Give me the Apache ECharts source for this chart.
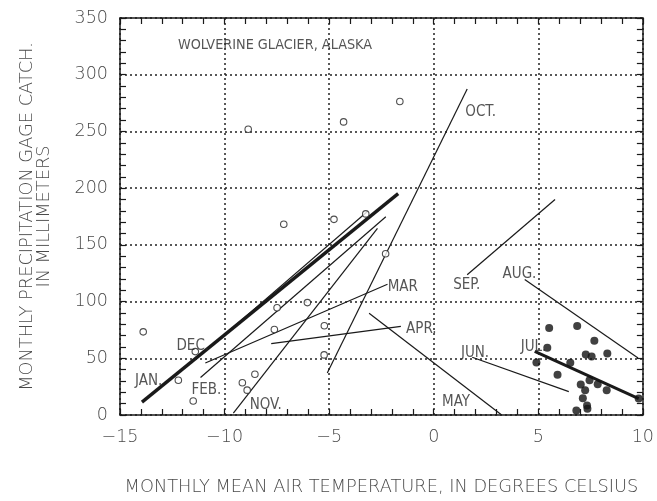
<!DOCTYPE html>
<html>
<head>
<meta charset="utf-8">
<script src="https://cdn.jsdelivr.net/npm/echarts@6/dist/echarts.min.js"></script>
<style>html,body{margin:0;padding:0;background:#fff}#c{width:657px;height:501px}</style>
</head>
<body>
<div id="c"></div>
<script>
// ---- data ----
const xTicks = [-15, -10, -5, 0, 5, 10];
const yTicks = [0, 50, 100, 150, 200, 250, 300, 350];

// open circles (monthly values, cold months)
const openX = [-13.89, -12.21, -11.50, -11.40, -9.15, -8.92, -8.55, -7.62, -7.49, -6.04, -5.23, -5.24, -7.17, -4.77, -3.25, -8.87, -4.31, -1.62, -2.30];
const openY = [73.3, 30.7, 12.3, 55.9, 28.4, 21.9, 35.9, 75.4, 94.6, 99.1, 78.7, 53.0, 168.2, 172.5, 177.3, 251.9, 258.4, 276.4, 142.1];

// filled dots (July values)
const julX = [5.52, 6.86, 5.43, 7.68, 7.27, 7.55, 8.30, 4.91, 6.53, 5.92, 7.03, 7.45, 7.84, 7.24, 8.27, 7.13, 7.33, 7.35, 6.82, 9.80];
const julY = [76.7, 78.4, 59.2, 65.5, 53.4, 51.5, 54.3, 46.3, 46.0, 35.5, 26.9, 30.6, 27.1, 21.9, 21.8, 14.8, 8.3, 5.6, 4.0, 14.5];

// regression lines: [x1, y1, x2, y2]
const lineJAN = [-13.95, 11.4, -1.70, 195.2];
const lineFEB = [-11.15, 33.1, -2.29, 174.8];
const lineMAR = [-10.92, 45.8, -2.21, 115.3];
const lineAPR = [-7.77, 62.9, -1.57, 78.2];
const lineMAY = [-3.09, 89.7, 3.25, 0];
const lineJUN = [1.84, 50.9, 6.46, 20.6];
const lineJUL = [4.83, 56.0, 9.80, 14.5];
const lineAUG = [4.35, 119.5, 9.77, 50.3];
const lineSEP = [1.60, 123.7, 5.80, 190.0];
const lineOCT = [-5.09, 37.0, 1.60, 287.5];
const lineNOV = [-9.58, 1.6, -2.69, 164.5];
const lineDEC = [-10.66, 60.3, -3.17, 179.4];

// text labels: name, x, y (data coordinates of left-middle)
const labelNames = ['JAN.', 'FEB.', 'MAR', 'APR.', 'MAY', 'JUN.', 'JUL.', 'AUG.', 'SEP.', 'OCT.', 'NOV.', 'DEC.'];
const labelX = [-14.28, -11.58, -2.20, -1.32, 0.40, 1.30, 4.16, 3.29, 0.93, 1.51, -8.80, -12.30];
const labelY = [29.9, 22.0, 112.8, 75.6, 11.7, 54.7, 60.1, 124.6, 114.6, 266.8, 8.8, 60.7];
const titleText = 'WOLVERINE GLACIER, ALASKA';
const titlePos = [-12.23, 326];

// ---- chart ----
const chart = echarts.init(document.getElementById('c'), null, {renderer: 'canvas'});
const axisFont = 'DejaVu Sans, Liberation Sans, sans-serif';
const textColor = '#4a4a4a';
const labelFont = 'Liberation Sans Narrow, DejaVu Sans Condensed, sans-serif';
const fmt = v => String(v).replace('-', '\u2212');

function mkLine(arr, w) {
  return {
    type: 'line', data: [[arr[0], arr[1]], [arr[2], arr[3]]],
    symbol: 'none', silent: true, animation: false,
    lineStyle: {color: '#1a1a1a', width: w}, z: 3
  };
}

const baseX = {
  type: 'value', min: -15, max: 10, interval: 5,
  axisLine: {show: true, onZero: false, lineStyle: {color: '#1a1a1a', width: 1.5}},
  axisTick: {show: true, inside: true, length: 6, lineStyle: {color: '#1a1a1a', width: 1.2}},
  minorTick: {show: true, splitNumber: 5, length: 6, lineStyle: {color: '#1a1a1a', width: 1.2}},
  splitLine: {show: false}
};
const baseY = {
  type: 'value', min: 0, max: 350, interval: 50,
  axisLine: {show: true, onZero: false, lineStyle: {color: '#1a1a1a', width: 1.5}},
  axisTick: {show: true, inside: true, length: 6, lineStyle: {color: '#1a1a1a', width: 1.2}},
  minorTick: {show: true, splitNumber: 5, length: 6, lineStyle: {color: '#1a1a1a', width: 1.2}},
  splitLine: {show: false}
};

const labelData = labelNames.map((n, i) => ({value: [labelX[i], labelY[i]], name: n}));

chart.setOption({
  animation: false,
  backgroundColor: '#fff',
  grid: {left: 120, right: 13, top: 18, bottom: 86},
  xAxis: [
    Object.assign({}, baseX, {
      position: 'bottom',
      axisLabel: {color: textColor, fontSize: 17.5, margin: 13, fontFamily: axisFont, fontWeight: 200, formatter: fmt},
      splitLine: {show: true, lineStyle: {type: [2, 3], color: '#222', width: 1.5}},
      name: 'MONTHLY MEAN AIR TEMPERATURE, IN DEGREES CELSIUS',
      nameLocation: 'middle', nameGap: 63,
      nameTextStyle: {color: textColor, fontSize: 17.8, fontFamily: axisFont, fontWeight: 200}
    }),
    Object.assign({}, baseX, {position: 'top', axisLabel: {show: false}})
  ],
  yAxis: [
    Object.assign({}, baseY, {
      position: 'left',
      axisLabel: {color: textColor, fontSize: 17.5, margin: 12, fontFamily: axisFont, fontWeight: 200},
      splitLine: {show: true, lineStyle: {type: [2, 3], color: '#222', width: 1.5}},
      name: 'MONTHLY PRECIPITATION GAGE CATCH.\nIN MILLIMETERS',
      nameLocation: 'middle', nameGap: 67, nameRotate: 90,
      nameTextStyle: {color: textColor, fontSize: 17.8, lineHeight: 17, fontFamily: axisFont, fontWeight: 200}
    }),
    Object.assign({}, baseY, {position: 'right', axisLabel: {show: false}})
  ],
  series: [
    mkLine(lineJAN, 3.4),
    mkLine(lineFEB, 1.2),
    mkLine(lineMAR, 1.2),
    mkLine(lineAPR, 1.2),
    mkLine(lineMAY, 1.2),
    mkLine(lineJUN, 1.2),
    mkLine(lineJUL, 3),
    mkLine(lineAUG, 1.2),
    mkLine(lineSEP, 1.2),
    mkLine(lineOCT, 1.2),
    mkLine(lineNOV, 1.2),
    mkLine(lineDEC, 1.2),
    {
      type: 'scatter', data: openX.map((x, i) => [x, openY[i]]),
      symbol: 'circle', symbolSize: 6.5, z: 4,
      itemStyle: {color: '#fff', borderColor: '#222', borderWidth: 1.1}
    },
    {
      type: 'scatter', data: julX.map((x, i) => [x, julY[i]]),
      symbol: 'circle', symbolSize: 8, z: 4,
      itemStyle: {color: '#111'}
    },
    {
      type: 'scatter', data: labelData, symbolSize: 0, z: 5, silent: true,
      label: {show: true, position: 'right', distance: 0, formatter: p => p.name,
        color: '#2a2a2a', fontSize: 15, fontFamily: labelFont}
    },
    {
      type: 'scatter', data: [{value: titlePos, name: titleText}], symbolSize: 0, z: 5, silent: true,
      label: {show: true, position: 'right', distance: 0, formatter: p => p.name,
        color: '#2a2a2a', fontSize: 14.3, fontFamily: labelFont}
    }
  ]
});
</script>
</body>
</html>
